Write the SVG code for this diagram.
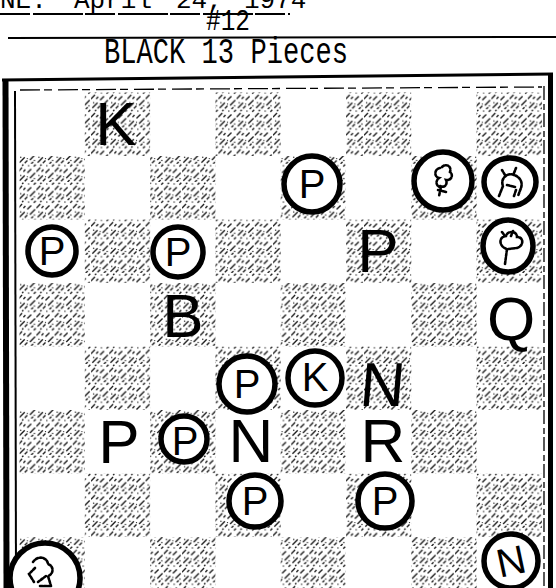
<svg xmlns="http://www.w3.org/2000/svg" width="556" height="588" viewBox="0 0 556 588">
<defs>
<pattern id="hatch" width="14" height="14" patternUnits="userSpaceOnUse" patternTransform="scale(1.3)">
<path d="M1 13 l4 -4 M7 7 l3 -3 M12 2 l1.5 -1.5 M0 6 l3 -3 M5 13.5 l2 -2 M9 11 l4 -4 M3 1.5 l1 -1 M10 14 l1.5 -1.5 M4 6 l1.5 -1.5" stroke="#000" stroke-width="1.05" fill="none"/>
<circle cx="8" cy="1.5" r="0.55" fill="#000"/>
<circle cx="2" cy="9" r="0.55" fill="#000"/>
<circle cx="12.5" cy="11.5" r="0.55" fill="#000"/>
<circle cx="7" cy="10" r="0.5" fill="#000"/>
</pattern>
<style>
.dk{fill:url(#hatch);opacity:0.9}
.ring{fill:#fff;stroke:#000;stroke-width:5.5}
.big{font-family:"Liberation Sans",Arial,sans-serif;font-size:62px;fill:#000;text-anchor:middle}
.sm{font-family:"Liberation Sans",Arial,sans-serif;font-size:40px;fill:#000;text-anchor:middle}
.doodle{fill:none;stroke:#000;stroke-width:2.6;stroke-dasharray:2.5 1.5;stroke-linecap:round}
.mono{font-family:"Liberation Mono","Courier New",monospace;fill:#000}
</style>
</defs>
<rect width="556" height="588" fill="#fff"/>

<g id="header">
<text class="mono" x="0" y="8" font-size="26">NE.</text>
<text class="mono" x="74" y="8" font-size="26">April</text>
<text class="mono" x="176" y="8" font-size="26">24,</text>
<text class="mono" x="244" y="8" font-size="26">1974</text>
<line x1="0" y1="14" x2="290" y2="14" stroke="#000" stroke-width="2" stroke-dasharray="30 3 50 2"/>
<text class="mono" x="206" y="30" font-size="30" textLength="44" lengthAdjust="spacingAndGlyphs">#12</text>
<line x1="8" y1="38" x2="556" y2="37" stroke="#000" stroke-width="2"/>
<text class="mono" x="104" y="63" font-size="36" textLength="244" lengthAdjust="spacingAndGlyphs">BLACK 13 Pieces</text>
</g>

<g id="board">
<g class="dk">
<rect x="84.8" y="92.5" width="65.3" height="63.5"/>
<rect x="215.4" y="92.5" width="65.3" height="63.5"/>
<rect x="346" y="92.5" width="65.3" height="63.5"/>
<rect x="476.6" y="92.5" width="65.3" height="63.5"/>
<rect x="19.5" y="156" width="65.3" height="63.5"/>
<rect x="150.1" y="156" width="65.3" height="63.5"/>
<rect x="280.7" y="156" width="65.3" height="63.5"/>
<rect x="411.3" y="156" width="65.3" height="63.5"/>
<rect x="84.8" y="219.5" width="65.3" height="63.5"/>
<rect x="215.4" y="219.5" width="65.3" height="63.5"/>
<rect x="346" y="219.5" width="65.3" height="63.5"/>
<rect x="476.6" y="219.5" width="65.3" height="63.5"/>
<rect x="19.5" y="283" width="65.3" height="63.5"/>
<rect x="150.1" y="283" width="65.3" height="63.5"/>
<rect x="280.7" y="283" width="65.3" height="63.5"/>
<rect x="411.3" y="283" width="65.3" height="63.5"/>
<rect x="84.8" y="346.5" width="65.3" height="63.5"/>
<rect x="215.4" y="346.5" width="65.3" height="63.5"/>
<rect x="346" y="346.5" width="65.3" height="63.5"/>
<rect x="476.6" y="346.5" width="65.3" height="63.5"/>
<rect x="19.5" y="410" width="65.3" height="63.5"/>
<rect x="150.1" y="410" width="65.3" height="63.5"/>
<rect x="280.7" y="410" width="65.3" height="63.5"/>
<rect x="411.3" y="410" width="65.3" height="63.5"/>
<rect x="84.8" y="473.5" width="65.3" height="63.5"/>
<rect x="215.4" y="473.5" width="65.3" height="63.5"/>
<rect x="346" y="473.5" width="65.3" height="63.5"/>
<rect x="476.6" y="473.5" width="65.3" height="63.5"/>
<rect x="19.5" y="537" width="65.3" height="63.5"/>
<rect x="150.1" y="537" width="65.3" height="63.5"/>
<rect x="280.7" y="537" width="65.3" height="63.5"/>
<rect x="411.3" y="537" width="65.3" height="63.5"/>
</g>
<line x1="2" y1="80" x2="553" y2="74" stroke="#000" stroke-width="3"/>
<line x1="5.5" y1="80" x2="6.5" y2="588" stroke="#000" stroke-width="6"/>
<line x1="550.5" y1="73" x2="550.5" y2="588" stroke="#000" stroke-width="5"/>
<line x1="15" y1="91" x2="16" y2="588" stroke="#000" stroke-width="2"/>
<line x1="20" y1="90" x2="542" y2="87" stroke="#000" stroke-width="1.3" stroke-dasharray="20 4 8 6"/>
<line x1="544" y1="86" x2="544" y2="588" stroke="#000" stroke-width="1.3" stroke-dasharray="14 4 6 3"/>
</g>

<g id="K-r1c2"><text class="big" x="116" y="145">K</text></g>
<g id="P-r3c6"><text class="big" x="378" y="272">P</text></g>
<g id="B-r4c3"><text class="big" x="183" y="337">B</text></g>
<g id="Q-r4c8"><text class="big" x="511" y="340">Q</text></g>
<g id="N-r5c6"><text class="big" x="381" y="406" transform="skewX(-5) translate(35.5 0)">N</text></g>
<g id="P-r6c2"><text class="big" x="119" y="463">P</text></g>
<g id="N-r6c4"><text class="big" x="251" y="462">N</text></g>
<g id="R-r6c6"><text class="big" x="383" y="462">R</text></g>

<g id="cP-r2c5"><circle class="ring" cx="312" cy="184" r="28"/><text class="sm" x="312" y="198">P</text></g>
<g id="cB-r2c7"><circle class="ring" cx="443" cy="181" r="29"/>
<path class="doodle" d="M440 168 c-6 1 -6 9 -1 10 c-4 3 -3 9 2 9 l-2 9 M442 167 c4 -4 10 -1 8 5 c4 3 1 9 -4 8 c2 5 -2 8 -6 6 M438 190 l8 2"/></g>
<g id="cB-r2c8"><ellipse class="ring" cx="510" cy="182" rx="26" ry="24"/>
<path class="doodle" d="M499 196 l4 -10 c-3 -7 4 -14 11 -11 c6 2 9 7 7 13 l-3 8 M505 175 l-3 -5 M514 173 l2 -5 M507 185 l8 2 M516 190 l-2 6"/></g>
<g id="cP-r3c1"><circle class="ring" cx="52" cy="251" r="24"/><text class="sm" x="52" y="265">P</text></g>
<g id="cP-r3c3"><circle class="ring" cx="178" cy="252" r="25"/><text class="sm" x="178" y="266">P</text></g>
<g id="cQ-r3c8"><ellipse class="ring" cx="508" cy="246" rx="25" ry="26"/>
<path class="doodle" d="M505 264 l2 -15 c-8 -2 -9 -12 -1 -13 c2 -6 11 -5 11 1 c7 0 7 9 0 11 l-9 1 M502 232 l3 4 M513 231 l-2 5"/></g>
<g id="cP-r5c4"><circle class="ring" cx="247" cy="384" r="28"/><text class="sm" x="247" y="398">P</text></g>
<g id="cK-r5c5"><circle class="ring" cx="315" cy="378" r="27"/><text class="sm" x="315" y="391" font-size="36">K</text></g>
<g id="cP-r6c3"><circle class="ring" cx="184" cy="439" r="23"/><text class="sm" x="185" y="455" font-size="40">P</text></g>
<g id="cP-r7c4"><circle class="ring" cx="255" cy="501" r="26"/><text class="sm" x="255" y="515">P</text></g>
<g id="cP-r7c6"><circle class="ring" cx="385" cy="501" r="27"/><text class="sm" x="385" y="515">P</text></g>
<g id="cN-r8c8"><circle class="ring" cx="511" cy="561" r="27"/><text class="sm" x="511" y="575" transform="rotate(-12 511 561)">N</text></g>
<g id="cX-r8c1"><circle class="ring" cx="45" cy="578" r="35"/>
<path class="doodle" d="M33 562 c5 -7 14 -5 15 2 c6 2 6 10 0 12 l3 10 M35 568 l-6 6 l5 8 M46 576 l-8 6 M40 586 l10 0"/></g>
</svg>
